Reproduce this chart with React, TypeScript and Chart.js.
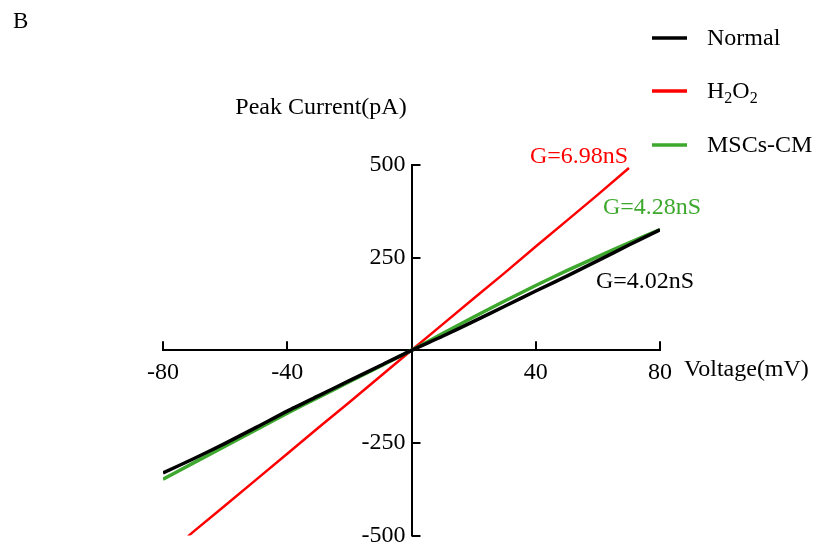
import React, { useEffect, useRef } from "react";
import { Chart, registerables } from "chart.js";

Chart.register(...registerables);

// ---- Data ----
const VOLTAGE = [-80, -70, -60, -50, -40, -30, -20, -10, 0, 10, 20, 30, 40, 50, 60, 70, 80];
const CURRENT_NORMAL = [-331, -292, -251, -208, -164, -123, -82, -41, 0, 38, 78, 119, 160, 200, 242, 284, 325];
const CURRENT_MSC = [-348, -303, -259, -214, -170, -127, -85, -43, 0, 45, 90, 133, 175, 215, 253, 290, 326];
const VOLTAGE_H2O2 = [-72, -70, -60, -50, -40, -30, -20, -10, 0, 10, 20, 30, 40, 50, 60, 70];
const CURRENT_H2O2 = [-502, -488, -419, -349, -279, -209, -140, -70, 0, 70, 140, 209, 280, 350, 420, 492];

const SERIES_LABELS = ["Normal", "H2O2", "MSCs-CM"];
const SERIES_COLORS = ["#000000", "#ff0000", "#3da82d"];
const CONDUCTANCE_LABELS = ["G=4.02nS", "G=6.98nS", "G=4.28nS"];

const X_MIN = -80, X_MAX = 80, X_STEP = 40;
const Y_MIN = -500, Y_MAX = 500, Y_STEP = 250;

const PANEL_LABEL = "B";
const Y_TITLE = "Peak Current(pA)";
const X_TITLE = "Voltage(mV)";

const FONT = "'Liberation Serif', 'Times New Roman', Times, serif";

function drawSubText(ctx: CanvasRenderingContext2D, text: string, x: number, y: number, size: number) {
  let cx = x;
  for (let i = 0; i < text.length; i++) {
    const ch = text[i];
    const isSub = /[0-9]/.test(ch) && i > 0 && /[A-Za-z]/.test(text[i - 1]);
    if (isSub) {
      ctx.font = `${Math.round(size * 0.68)}px ${FONT}`;
      ctx.fillText(ch, cx, y + size * 0.28);
    } else {
      ctx.font = `${size}px ${FONT}`;
      ctx.fillText(ch, cx, y);
    }
    cx += ctx.measureText(ch).width;
  }
}

const overlayPlugin = {
  id: "overlay",
  afterDraw(chart: any) {
    const ctx: CanvasRenderingContext2D = chart.ctx;
    const xs = chart.scales.x;
    const ys = chart.scales.y;
    const x0 = xs.getPixelForValue(0);
    const y0 = ys.getPixelForValue(0);
    ctx.save();
    ctx.strokeStyle = "#000";
    ctx.lineWidth = 2;
    xs.ticks.forEach((t: any) => {
      if (t.value === 0) return;
      const px = Math.round(xs.getPixelForValue(t.value));
      ctx.beginPath();
      ctx.moveTo(px, y0);
      ctx.lineTo(px, y0 - 9);
      ctx.stroke();
    });
    ys.ticks.forEach((t: any) => {
      if (t.value === 0) return;
      const py = Math.round(ys.getPixelForValue(t.value));
      ctx.beginPath();
      ctx.moveTo(x0, py);
      ctx.lineTo(x0 + 9, py);
      ctx.stroke();
    });

    ctx.textBaseline = "middle";
    ctx.fillStyle = "#000";
    ctx.font = `23px ${FONT}`;
    ctx.textAlign = "left";
    ctx.fillText(PANEL_LABEL, 13, 22);

    ctx.font = `24px ${FONT}`;
    ctx.textAlign = "center";
    ctx.fillText(Y_TITLE, 321, 108);

    ctx.font = `24px ${FONT}`;
    ctx.textAlign = "left";
    ctx.fillText(X_TITLE, 684, 370);

    ctx.font = `24px ${FONT}`;
    ctx.fillStyle = SERIES_COLORS[1];
    ctx.fillText(CONDUCTANCE_LABELS[1], 530, 157);
    ctx.fillStyle = SERIES_COLORS[2];
    ctx.fillText(CONDUCTANCE_LABELS[2], 603, 208);
    ctx.fillStyle = SERIES_COLORS[0];
    ctx.fillText(CONDUCTANCE_LABELS[0], 596, 282);

    const legendY = [39, 92, 146];
    SERIES_LABELS.forEach((lab, i) => {
      ctx.strokeStyle = SERIES_COLORS[i];
      ctx.lineWidth = 3.5;
      ctx.beginPath();
      ctx.moveTo(652, legendY[i] - 1);
      ctx.lineTo(687, legendY[i] - 1);
      ctx.stroke();
      ctx.fillStyle = "#000";
      ctx.textAlign = "left";
      drawSubText(ctx, lab, 707, legendY[i], 24);
    });
    ctx.restore();
  },
};

export default function App() {
  const ref = useRef<HTMLCanvasElement | null>(null);
  useEffect(() => {
    if (!ref.current) return;
    const normal = VOLTAGE.map((v, i) => ({ x: v, y: CURRENT_NORMAL[i] }));
    const msc = VOLTAGE.map((v, i) => ({ x: v, y: CURRENT_MSC[i] }));
    const h2o2 = VOLTAGE_H2O2.map((v, i) => ({ x: v, y: CURRENT_H2O2[i] }));
    const tickFont = { family: FONT, size: 24 };
    const chart = new Chart(ref.current, {
      type: "line",
      data: {
        datasets: [
          { label: SERIES_LABELS[1], data: h2o2, borderColor: SERIES_COLORS[1], borderWidth: 2.5, pointRadius: 0, tension: 0, order: 3 },
          { label: SERIES_LABELS[2], data: msc, borderColor: SERIES_COLORS[2], borderWidth: 3.5, pointRadius: 0, tension: 0.2, order: 2 },
          { label: SERIES_LABELS[0], data: normal, borderColor: SERIES_COLORS[0], borderWidth: 3.5, pointRadius: 0, tension: 0.2, order: 1 },
        ],
      },
      options: {
        responsive: false,
        animation: false,
        layout: { padding: { left: 163, right: 154, top: 165, bottom: 0 } },
        plugins: { legend: { display: false }, tooltip: { enabled: false } },
        scales: {
          x: {
            type: "linear",
            position: { y: 0 } as any,
            min: X_MIN,
            max: X_MAX,
            grid: { display: false, drawTicks: false },
            border: { display: true, color: "#000", width: 2 },
            ticks: {
              stepSize: X_STEP,
              color: "#000",
              font: tickFont,
              padding: 8,
              maxRotation: 0,
              callback: (v: any) => (v === 0 ? "" : String(v)),
            },
          },
          y: {
            type: "linear",
            position: { x: 0 } as any,
            min: Y_MIN,
            max: Y_MAX,
            grid: { display: false, drawTicks: false },
            border: { display: true, color: "#000", width: 2 },
            ticks: {
              stepSize: Y_STEP,
              color: "#000",
              font: tickFont,
              padding: 6,
              callback: (v: any) => (v === 0 ? "" : String(v) + " "),
            },
          },
        },
      },
      plugins: [overlayPlugin],
    });
    return () => chart.destroy();
  }, []);
  return (
    <div style={{ position: "fixed", left: 0, top: 0, width: 814, height: 546, overflow: "hidden", background: "#fff" }}>
      <canvas ref={ref} width={814} height={556} style={{ display: "block" }} />
    </div>
  );
}
